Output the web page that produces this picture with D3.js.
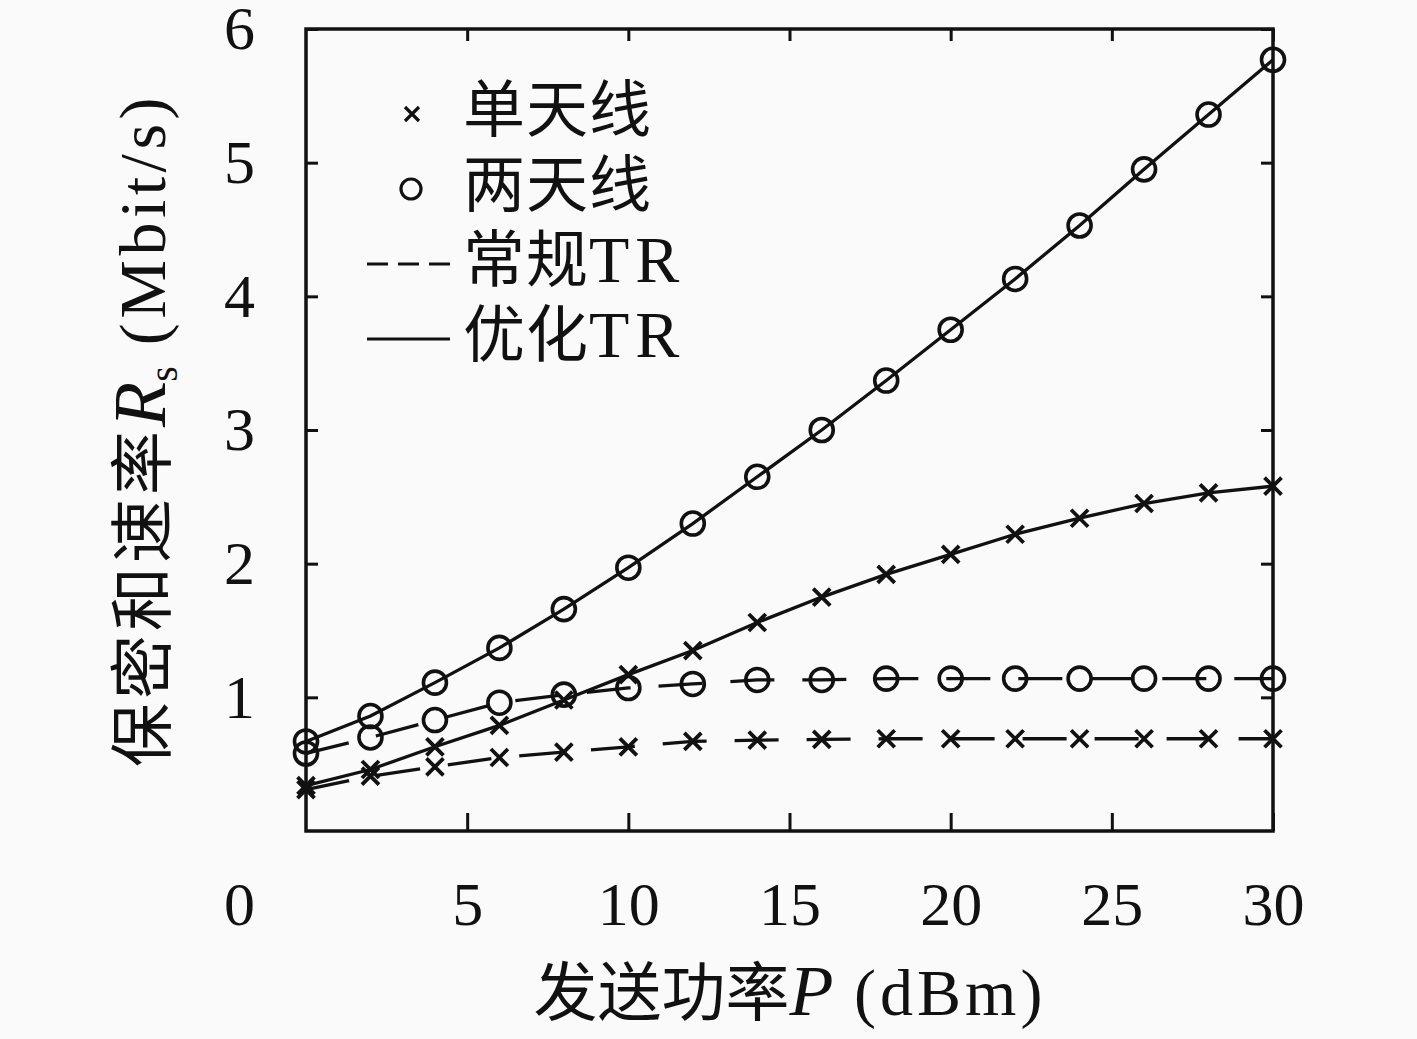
<!DOCTYPE html>
<html>
<head>
<meta charset="utf-8">
<script src="https://cdn.jsdelivr.net/npm/d3@7"></script>
<style>
  body { margin: 0; background: #fafafa; }
  text { font-family: "Liberation Serif", "Noto Sans CJK SC", serif; fill: #111; }
  .cjk { font-family: "Noto Sans CJK SC", sans-serif; }
</style>
</head>
<body>
<div id="chart"></div>
<script>
// transmit power P (dBm)
var power = [0, 2, 4, 6, 8, 10, 12, 14, 16, 18, 20, 22, 24, 26, 28, 30];

// secrecy sum rate Rs (Mbit/s)
var optTwo  = [0.67, 0.86, 1.11, 1.37, 1.66, 1.97, 2.30, 2.65, 3.00, 3.37, 3.75, 4.13, 4.53, 4.95, 5.36, 5.77];
var optOne  = [0.34, 0.46, 0.63, 0.79, 0.98, 1.17, 1.35, 1.56, 1.75, 1.92, 2.07, 2.22, 2.34, 2.45, 2.53, 2.58];
var convTwo = [0.58, 0.70, 0.83, 0.96, 1.02, 1.07, 1.10, 1.13, 1.13, 1.14, 1.14, 1.14, 1.14, 1.14, 1.14, 1.14];
var convOne = [0.31, 0.41, 0.48, 0.55, 0.59, 0.63, 0.67, 0.68, 0.685, 0.69, 0.69, 0.69, 0.69, 0.69, 0.69, 0.69];

var xTicks = [5, 10, 15, 20, 25, 30];
var yTicks = [1, 2, 3, 4, 5, 6];
var legendCjk = ["单天线", "两天线", "常规", "优化"];
var legendLatin = ["", "", "TR", "TR"];

var series = [
  {vals: convOne, dash: "44,28", mark: "x"},
  {vals: convTwo, dash: "44,28", mark: "o"},
  {vals: optOne, dash: null, mark: "x"},
  {vals: optTwo, dash: null, mark: "o"}
];

var svg = d3.select("#chart")
  .append("svg")
    .attr("width", 1417)
    .attr("height", 1039);

var x = d3.scaleLinear().domain([0, 30]).range([306, 1273]);
var y = d3.scaleLinear().domain([0, 6]).range([831, 29]);

function crossPath(s) {
  return "M" + (-s) + "," + (-s) + "L" + s + "," + s + "M" + (-s) + "," + s + "L" + s + "," + (-s);
}

// lines
var line = d3.line()
  .x(function (d, i) { return x(power[i]); })
  .y(function (d) { return y(d); });

series.forEach(function (s) {
  svg.append("path")
    .datum(s.vals)
    .attr("d", line)
    .attr("fill", "none")
    .attr("stroke", "#111")
    .attr("stroke-width", 3.3)
    .attr("stroke-dasharray", s.dash);
});

// markers
series.forEach(function (s) {
  var g = svg.append("g");
  if (s.mark == "o") {
    g.selectAll("circle")
      .data(s.vals)
      .enter()
      .append("circle")
        .attr("cx", function (d, i) { return x(power[i]); })
        .attr("cy", function (d) { return y(d); })
        .attr("r", 11.5)
        .attr("fill", "none")
        .attr("stroke", "#111")
        .attr("stroke-width", 3.6);
  } else {
    g.selectAll("path")
      .data(s.vals)
      .enter()
      .append("path")
        .attr("d", crossPath(8.5))
        .attr("transform", function (d, i) { return "translate(" + x(power[i]) + "," + y(d) + ")"; })
        .attr("stroke", "#111")
        .attr("stroke-width", 3.8);
  }
});

// axes, ticks pointing inward
function styleAxis(g) {
  g.attr("font-size", null).attr("font-family", null);
  g.select(".domain").remove();
  g.selectAll(".tick line").attr("stroke", "#111").attr("stroke-width", 3);
  g.selectAll(".tick text").style("font-size", "62px");
}

svg.append("g")
  .attr("transform", "translate(0,831)")
  .call(d3.axisBottom(x).tickValues(xTicks).tickSize(-18).tickPadding(50).tickFormat(d3.format("d")))
  .call(styleAxis);

svg.append("g")
  .attr("transform", "translate(0,29)")
  .call(d3.axisTop(x).tickValues(xTicks).tickSize(-12).tickFormat(""))
  .call(styleAxis);

svg.append("g")
  .attr("transform", "translate(306,0)")
  .call(d3.axisLeft(y).tickValues(yTicks).tickSize(-12).tickPadding(51).tickFormat(d3.format("d")))
  .call(styleAxis);

svg.append("g")
  .attr("transform", "translate(1273,0)")
  .call(d3.axisRight(y).tickValues(yTicks).tickSize(-12).tickFormat(""))
  .call(styleAxis);

// shared zero at the corner
svg.append("text")
  .attr("x", 255)
  .attr("y", 925)
  .attr("text-anchor", "end")
  .style("font-size", "62px")
  .text("0");

// frame
svg.append("rect")
  .attr("x", x(0))
  .attr("y", y(6))
  .attr("width", x(30) - x(0))
  .attr("height", y(0) - y(6))
  .attr("fill", "none")
  .attr("stroke", "#111")
  .attr("stroke-width", 3.5);

// axis titles
var xl = svg.append("text")
  .attr("x", 790)
  .attr("y", 1015)
  .attr("text-anchor", "middle");
xl.append("tspan").attr("class", "cjk").style("font-size", "64px").text("发送功率");
xl.append("tspan").style("font-size", "72px").style("font-style", "italic").text("P");
xl.append("tspan").style("font-size", "66px").style("letter-spacing", "4px").text(" (dBm)");

var yl = svg.append("text")
  .attr("transform", "translate(165,430) rotate(-90)")
  .attr("text-anchor", "middle");
yl.append("tspan").attr("class", "cjk").style("font-size", "64px").style("letter-spacing", "4px").text("保密和速率");
yl.append("tspan").style("font-size", "74px").style("font-style", "italic").text("R");
yl.append("tspan").attr("dy", 12).style("font-size", "40px").text("s");
yl.append("tspan").attr("dy", -12).style("font-size", "66px").style("letter-spacing", "4.5px").text(" (Mbit/s)");

// legend
var leg = svg.append("g");
legendCjk.forEach(function (name, i) {
  var base = 132 + 75 * i;
  var my = base - 18;
  if (i == 0) {
    leg.append("path").attr("d", crossPath(7))
      .attr("transform", "translate(412," + my + ")")
      .attr("stroke", "#111").attr("stroke-width", 3.2);
  } else if (i == 1) {
    leg.append("circle").attr("cx", 411).attr("cy", my).attr("r", 10)
      .attr("fill", "none").attr("stroke", "#111").attr("stroke-width", 3.2);
  } else {
    leg.append("line").attr("x1", 367).attr("x2", 450).attr("y1", my).attr("y2", my)
      .attr("stroke", "#111").attr("stroke-width", 3.2)
      .attr("stroke-dasharray", i == 2 ? "21,10" : null);
  }
  var t = leg.append("text")
    .attr("x", 463)
    .attr("y", base);
  t.append("tspan").attr("class", "cjk").style("font-size", "62px").style("letter-spacing", "1px").text(name);
  t.append("tspan").style("font-size", "66px").style("letter-spacing", "6px").text(legendLatin[i]);
});
</script>
</body>
</html>
